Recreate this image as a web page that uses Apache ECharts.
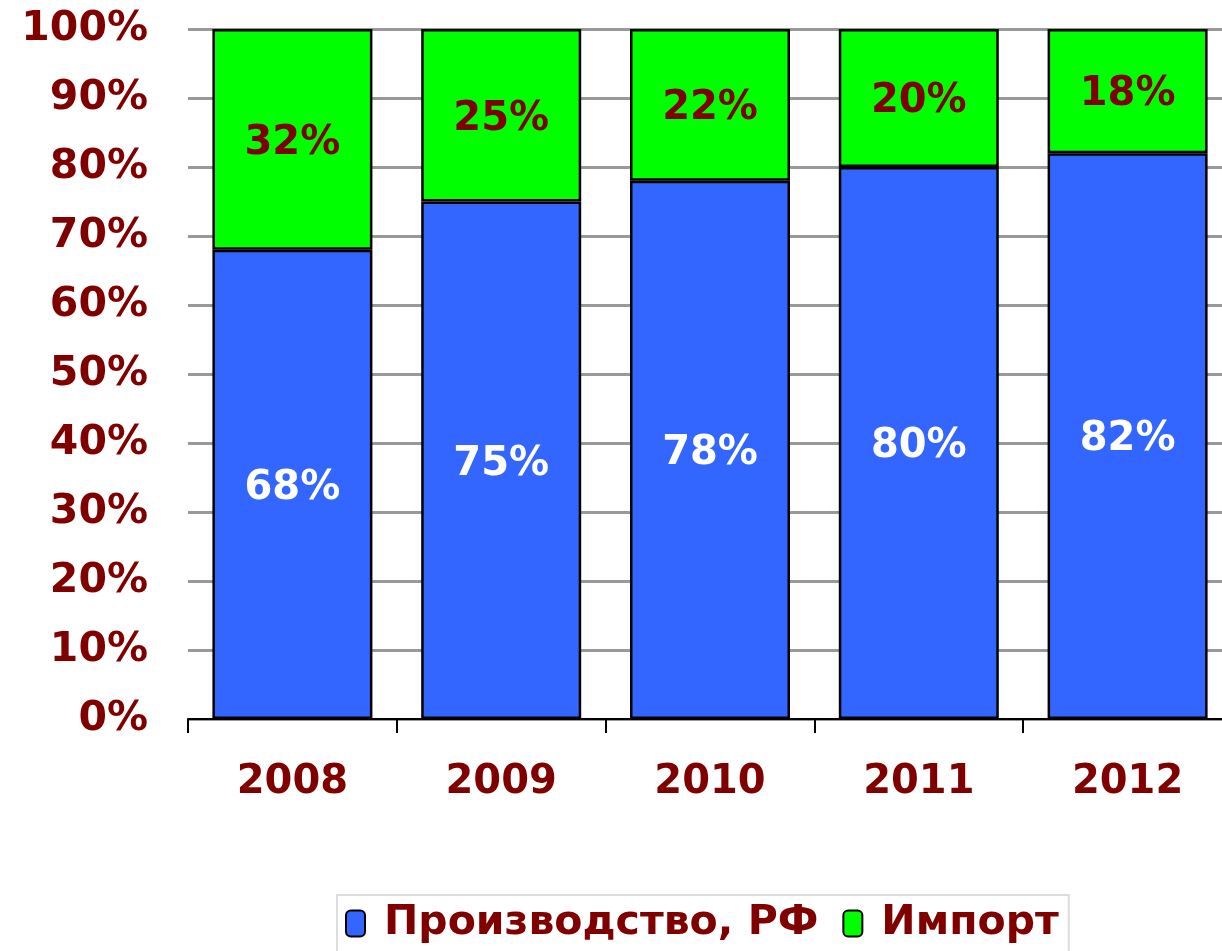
<!DOCTYPE html>
<html>
<head>
<meta charset="utf-8">
<script src="https://cdn.jsdelivr.net/npm/echarts@6/dist/echarts.min.js"></script>
<style>
html, body { margin: 0; padding: 0; background: #fff; overflow: hidden; }
#chart { width: 1234px; height: 951px; }
</style>
</head>
<body>
<div id="chart"></div>
<script>
const years = ['2008', '2009', '2010', '2011', '2012'];
const domestic = [68, 75, 78, 80, 82];
const imports = [32, 25, 22, 20, 18];
const yTicks = [0, 10, 20, 30, 40, 50, 60, 70, 80, 90, 100];

const RED = '#800000';
const FONT = 'DejaVu Sans';

// plot runs a bit past the right edge of the window, like the original
const chart = echarts.init(document.getElementById('chart'));
const option = {
    animation: false,
    textStyle: { fontFamily: FONT },
    grid: { left: 188, right: 2, top: 29, bottom: 232 },
    legend: {
        left: 337,
        top: 895,
        itemWidth: 19,
        itemHeight: 26,
        itemGap: 24,
        padding: [8, 10, 12, 8],
        borderColor: '#dddddd',
        borderWidth: 2,
        textStyle: { color: RED, fontSize: 41, fontWeight: 'bold', fontFamily: FONT, padding: [0, 0, 0, 14] },
        data: ['Производство, РФ', 'Импорт']
    },
    xAxis: {
        type: 'category',
        data: years,
        axisLine: { lineStyle: { color: '#000', width: 2 } },
        axisTick: { show: true, interval: 0, length: 14, lineStyle: { color: '#000', width: 2 } },
        axisLabel: { color: RED, fontSize: 40, fontWeight: 'bold', margin: 44 }
    },
    yAxis: {
        type: 'value',
        min: 0,
        max: 100,
        interval: 10,
        axisLine: { show: false },
        axisTick: { show: false },
        splitLine: { lineStyle: { color: '#999999', width: 3 } },
        axisLabel: {
            color: RED, fontSize: 41, fontWeight: 'bold', margin: 40,
            formatter: v => yTicks.includes(v) ? v + '%' : ''
        }
    },
    series: [
        {
            name: 'Производство, РФ',
            type: 'bar',
            stack: 'total',
            barWidth: 160,
            data: domestic,
            itemStyle: { color: '#3366FF', borderColor: '#000', borderWidth: 2.5 },
            label: {
                show: true, position: 'inside', color: '#fff', offset: [0, 4],
                fontSize: 40, fontWeight: 'bold', formatter: '{c}%'
            }
        },
        {
            name: 'Импорт',
            type: 'bar',
            stack: 'total',
            barWidth: 160,
            data: imports,
            itemStyle: { color: '#00FF00', borderColor: '#000', borderWidth: 2.5 },
            label: {
                show: true, position: 'inside', color: RED, offset: [0, 4],
                fontSize: 40, fontWeight: 'bold', formatter: '{c}%'
            }
        }
    ]
};
chart.setOption(option);
</script>
</body>
</html>
